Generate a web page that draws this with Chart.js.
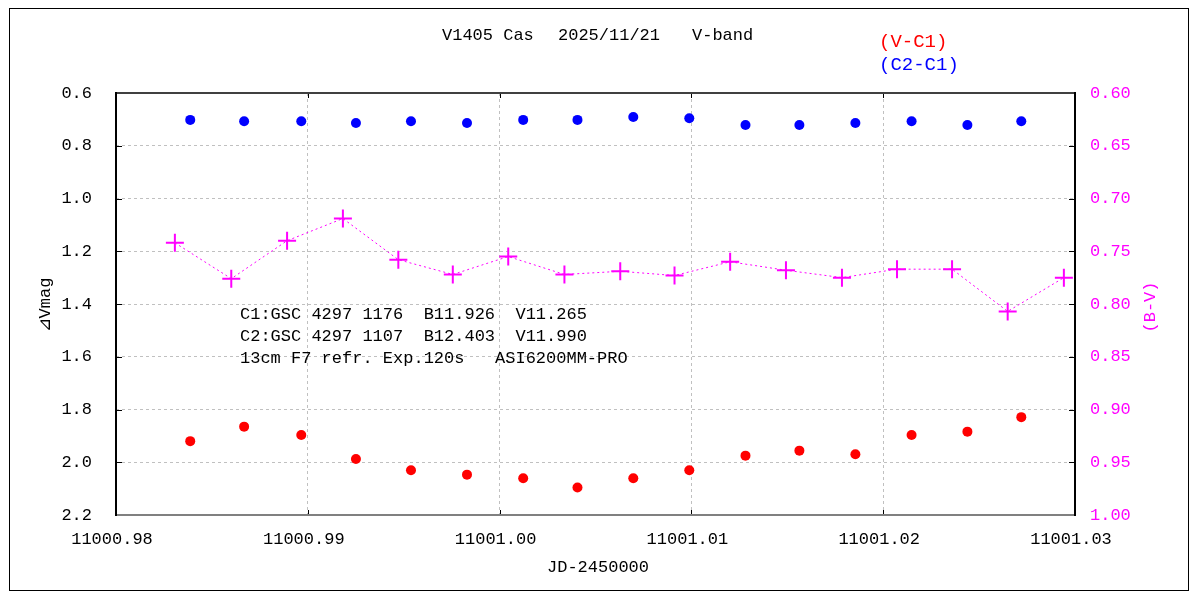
<!DOCTYPE html>
<html>
<head>
<meta charset="utf-8">
<script src="https://cdn.jsdelivr.net/npm/chart.js@4.4.1/dist/chart.umd.min.js"></script>
<style>
  html, body { margin: 0; padding: 0; background: #fff; }
  #grafica { display: block; }
</style>
</head>
<body>
<canvas id="grafica" width="1200" height="600"></canvas>
<script>
// Tiempos (JD-2450000) de las medidas en V
const jdV = [
  11000.98387, 11000.98668, 11000.98966, 11000.99251, 11000.99538, 11000.99830,
  11001.00123, 11001.00406, 11001.00697, 11001.00989, 11001.01282, 11001.01563,
  11001.01855, 11001.02148, 11001.02439, 11001.02720
];
const vMenosC1 = [
  1.920, 1.865, 1.897, 1.988, 2.030, 2.047, 2.061, 2.096,
  2.061, 2.030, 1.975, 1.956, 1.970, 1.897, 1.884, 1.829
];
const c2MenosC1 = [
  0.702, 0.707, 0.707, 0.714, 0.707, 0.714, 0.702, 0.702,
  0.691, 0.696, 0.721, 0.721, 0.714, 0.707, 0.721, 0.707
];
// Tiempos y valores del color B-V
const jdBV = [
  11000.98307, 11000.98601, 11000.98892, 11000.99183, 11000.99472, 11000.99756,
  11001.00045, 11001.00338, 11001.00629, 11001.00912, 11001.01202, 11001.01493,
  11001.01785, 11001.02072, 11001.02359, 11001.02649, 11001.02942
];
const bMenosV = [
  0.742, 0.776, 0.740, 0.719, 0.758, 0.772, 0.755, 0.772, 0.769,
  0.773, 0.760, 0.768, 0.775, 0.767, 0.767, 0.807, 0.775
];

// Marcas de los ejes
const ticksX = [11000.98, 11000.99, 11001.00, 11001.01, 11001.02, 11001.03];
const etiquetasX = ['11000.98', '11000.99', '11001.00', '11001.01', '11001.02', '11001.03'];
const ticksMag = [0.6, 0.8, 1.0, 1.2, 1.4, 1.6, 1.8, 2.0, 2.2];
const ticksBV = [0.60, 0.65, 0.70, 0.75, 0.80, 0.85, 0.90, 0.95, 1.00];

const titulo = 'V1405 Cas  2025/11/21  V-band';
const notas = [
  'C1:GSC 4297 1176  B11.926  V11.265',
  'C2:GSC 4297 1107  B12.403  V11.990',
  '13cm F7 refr. Exp.120s   ASI6200MM-PRO'
];

const FUENTE = '"Liberation Mono", "DejaVu Sans Mono", monospace';

function puntos(xs, ys) {
  return xs.map((x, i) => ({ x: x, y: ys[i] }));
}

// Textos, marco y marcas interiores
const decoracion = {
  id: 'decoracion',
  beforeDatasetsDraw(chart) {
    const ctx = chart.ctx;
    const a = chart.chartArea;
    const sx = chart.scales.x, sy = chart.scales.y;
    ctx.save();
    ctx.setLineDash([]);
    // marcas interiores
    ctx.strokeStyle = '#000';
    ctx.lineWidth = 1;
    ticksMag.forEach(v => {
      const y = Math.round(sy.getPixelForValue(v)) + 0.5;
      ctx.beginPath();
      ctx.moveTo(a.left, y); ctx.lineTo(a.left + 6, y);
      ctx.moveTo(a.right, y); ctx.lineTo(a.right - 6, y);
      ctx.stroke();
    });
    ticksX.forEach(v => {
      const x = Math.round(sx.getPixelForValue(v)) + 0.5;
      ctx.beginPath();
      ctx.moveTo(x, a.top); ctx.lineTo(x, a.top + 5);
      ctx.moveTo(x, a.bottom); ctx.lineTo(x, a.bottom - 5);
      ctx.stroke();
    });
    // marco del área
    ctx.lineWidth = 2;
    ctx.strokeStyle = '#404040';
    ctx.beginPath(); ctx.moveTo(a.left, a.top); ctx.lineTo(a.right, a.top); ctx.stroke();
    ctx.strokeStyle = '#808080';
    ctx.beginPath(); ctx.moveTo(a.left, a.bottom); ctx.lineTo(a.right, a.bottom); ctx.stroke();
    ctx.strokeStyle = '#000';
    ctx.beginPath(); ctx.moveTo(a.left, a.top - 1); ctx.lineTo(a.left, a.bottom + 1); ctx.stroke();
    ctx.beginPath(); ctx.moveTo(a.right, a.top - 1); ctx.lineTo(a.right, a.bottom + 1); ctx.stroke();
    ctx.restore();
  },
  afterDraw(chart) {
    const ctx = chart.ctx;
    ctx.save();
    // marco exterior
    ctx.strokeStyle = '#000';
    ctx.lineWidth = 1;
    ctx.strokeRect(9.5, 8.5, 1179, 582);

    ctx.font = '17px ' + FUENTE;
    ctx.textBaseline = 'middle';
    ctx.fillStyle = '#000';
    ctx.textAlign = 'left';
    ctx.fillText('V1405 Cas', 442, 35);
    ctx.fillText('2025/11/21', 558, 35);
    ctx.fillText('V-band', 692, 35);
    ctx.textAlign = 'center';
    ctx.fillText('JD-2450000', 598, 567);

    ctx.textAlign = 'left';
    notas.forEach((t, i) => ctx.fillText(t, 240, 314 + i * 22));

    ctx.font = '19px ' + FUENTE;
    ctx.fillStyle = '#ff0000';
    ctx.fillText('(V-C1)', 879, 42);
    ctx.fillStyle = '#0000ff';
    ctx.fillText('(C2-C1)', 879, 65);

    // títulos de los ejes verticales
    ctx.font = '17px ' + FUENTE;
    ctx.textAlign = 'center';
    ctx.fillStyle = '#000';
    ctx.translate(45, 305);
    ctx.rotate(-Math.PI / 2);
    ctx.fillText('⊿Vmag', 0, 0);
    ctx.rotate(Math.PI / 2);
    ctx.translate(-45, -305);

    ctx.fillStyle = '#ff00ff';
    ctx.translate(1150, 307);
    ctx.rotate(-Math.PI / 2);
    ctx.fillText('(B-V)', 0, 0);
    ctx.restore();
  }
};

const ctx = document.getElementById('grafica').getContext('2d');
const grafica = new Chart(ctx, {
  type: 'scatter',
  data: {
    datasets: [
      {
        label: '(C2-C1)',
        data: puntos(jdV, c2MenosC1),
        yAxisID: 'y',
        backgroundColor: '#0000ff',
        borderColor: '#0000ff',
        pointRadius: 5,
        pointBorderWidth: 0,
      },
      {
        label: '(V-C1)',
        data: puntos(jdV, vMenosC1),
        yAxisID: 'y',
        backgroundColor: '#ff0000',
        borderColor: '#ff0000',
        pointRadius: 5,
        pointBorderWidth: 0,
      },
      {
        label: '(B-V)',
        data: puntos(jdBV, bMenosV),
        yAxisID: 'y2',
        showLine: true,
        borderColor: '#ff00ff',
        backgroundColor: '#ff00ff',
        borderWidth: 1,
        borderDash: [2, 3],
        pointStyle: 'cross',
        pointRadius: 9,
        pointBorderWidth: 2,
      },
    ],
  },
  options: {
    responsive: false,
    animation: false,
    devicePixelRatio: 1,
    layout: { padding: { top: 93, left: 0, right: 0, bottom: 0 } },
    plugins: {
      legend: { display: false },
      tooltip: { enabled: false },
    },
    scales: {
      x: {
        type: 'linear',
        min: 11000.98,
        max: 11001.03,
        afterFit: s => { s.height = 85; },
        afterBuildTicks: s => { s.ticks = ticksX.map(v => ({ value: v })); },
        ticks: {
          callback: (v, i) => etiquetasX[i],
          color: '#000',
          font: { family: FUENTE, size: 17 },
          padding: 14,
          labelOffset: -4,
          maxRotation: 0,
        },
        grid: { color: '#c0c0c0', drawTicks: false, lineWidth: 1 },
        border: { display: false, dash: [3, 3] },
      },
      y: {
        position: 'left',
        reverse: true,
        min: 0.6,
        max: 2.2,
        afterFit: s => { s.width = 116; },
        afterBuildTicks: s => { s.ticks = ticksMag.map(v => ({ value: v })); },
        ticks: {
          callback: v => v.toFixed(1),
          color: '#000',
          font: { family: FUENTE, size: 17 },
          padding: 24,
        },
        grid: { color: '#c0c0c0', drawTicks: false, lineWidth: 1 },
        border: { display: false, dash: [3, 3] },
      },
      y2: {
        position: 'right',
        reverse: true,
        min: 0.60,
        max: 1.00,
        afterFit: s => { s.width = 125; },
        afterBuildTicks: s => { s.ticks = ticksBV.map(v => ({ value: v })); },
        ticks: {
          callback: v => v.toFixed(2),
          color: '#ff00ff',
          font: { family: FUENTE, size: 17 },
          padding: 15,
        },
        grid: { display: false, drawTicks: false },
        border: { display: false },
      },
    },
  },
  plugins: [decoracion],
});
</script>
</body>
</html>
